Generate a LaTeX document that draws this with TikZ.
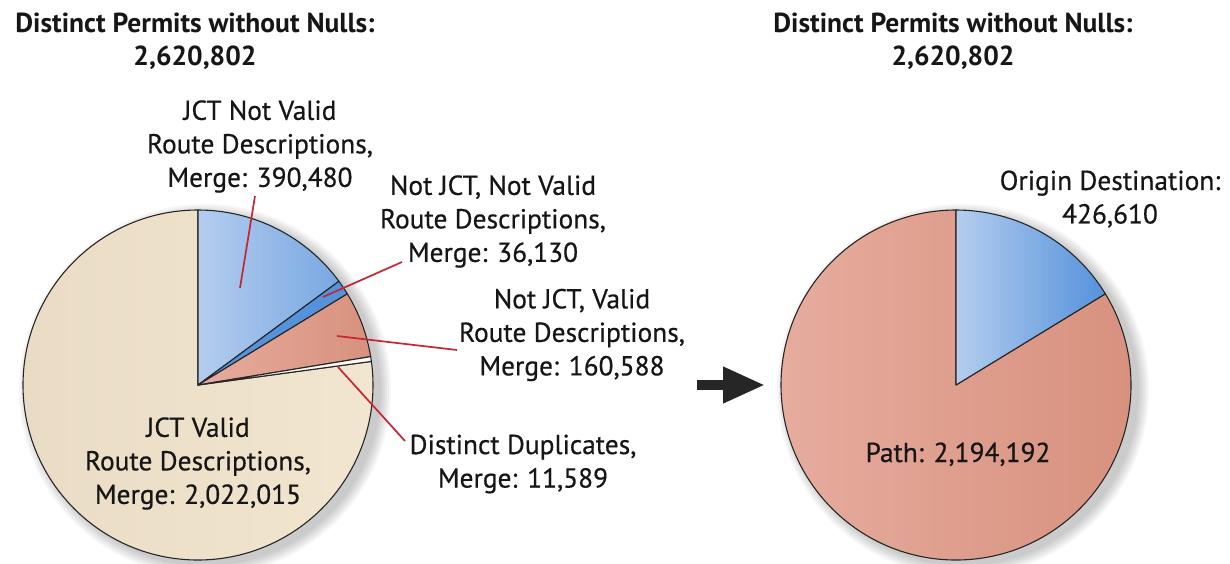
\documentclass[tikz,border=0pt]{standalone}
\usepackage{fontspec}
\setmainfont{PT Sans}
\newfontfamily\lblfont[FakeBold=0.5]{PT Sans}
\usetikzlibrary{arrows.meta}
\definecolor{tanA}{RGB}{234,220,196}
\definecolor{tanB}{RGB}{242,230,208}
\definecolor{blueA}{RGB}{180,205,238}
\definecolor{blueB}{RGB}{120,168,226}
\definecolor{blueC}{RGB}{84,146,220}
\definecolor{pinkA}{RGB}{230,172,158}
\definecolor{pinkB}{RGB}{216,145,126}
\definecolor{dupw}{RGB}{252,250,242}
\definecolor{leaderred}{RGB}{196,38,52}
\definecolor{inkc}{RGB}{22,22,22}
\begin{document}
\begin{tikzpicture}[x=1pt,y=1pt,
  lbl/.style={font=\lblfont\fontsize{27.4}{33.5}\selectfont, align=center, inner sep=0pt, text=inkc},
  ttl/.style={font=\bfseries\fontsize{27.5}{33}\selectfont, align=center, inner sep=0pt, text=inkc},
  slice/.style={draw=black!85, line width=1.1pt, line join=round},
  leader/.style={draw=leaderred, line width=1.7pt},
  shad/.style={fill=black, opacity=0.035}]
\fill[white] (0,0) rectangle (1230,-563);
\useasboundingbox (0,0) rectangle (1230,-563);

% pie centres
\coordinate (c1) at (198,-385);
\coordinate (c2) at (956,-385);

% soft shadows
\foreach \k in {1,3,5,7,9,11}{
  \fill[shad] (205,-390) circle[radius=175+\k];
  \fill[shad] (963,-390) circle[radius=175+\k];
}

% left pie
\path[slice, left color=tanA, right color=tanB] (c1) -- ++(90:175) arc[start angle=90, end angle=367.749, radius=175] -- cycle;
\path[slice, left color=blueA, right color=blueB] (c1) -- ++(36.363:175) arc[start angle=36.363, end angle=90, radius=175] -- cycle;
\path[slice, fill=blueC] (c1) -- ++(31.4:175) arc[start angle=31.4, end angle=36.363, radius=175] -- cycle;
\path[slice, left color=pinkA, right color=pinkB] (c1) -- ++(9.341:175) arc[start angle=9.341, end angle=31.4, radius=175] -- cycle;
\path[slice, fill=dupw] (c1) -- ++(7.749:175) arc[start angle=7.749, end angle=9.341, radius=175] -- cycle;

% right pie
\path[slice, left color=pinkA, right color=pinkB] (c2) -- ++(90:175) arc[start angle=90, end angle=391.4, radius=175] -- cycle;
\path[slice, left color=blueA, right color=blueC] (c2) -- ++(31.4:175) arc[start angle=31.4, end angle=90, radius=175] -- cycle;

% titles
\node[ttl] (t1) at (195,-41) {Distinct Permits without Nulls:\\2,620,802};
\node[ttl] (t2) at (953,-41) {Distinct Permits without Nulls:\\2,620,802};

% labels
\node[lbl] (l1) at (260,-146.5) {JCT Not Valid\\Route Descriptions,\\Merge: 390,480};
\node[lbl] (l2) at (493,-221.5) {Not JCT, Not Valid\\Route Descriptions,\\Merge: 36,130};
\node[lbl] (l3) at (572,-335) {Not JCT, Valid\\Route Descriptions,\\Merge: 160,588};
\node[lbl] (l4) at (523,-464) {Distinct Duplicates,\\Merge: 11,589};
\node[lbl] (l5) at (198,-463.5) {JCT Valid\\Route Descriptions,\\Merge: 2,022,015};
\node[lbl, anchor=base] (l6) at (958,-462) {Path: 2,194,192};
\node[lbl] (l7) at (1110,-199) {Origin Destination:\\426,610};

% leader lines
\coordinate (p1) at (240,-288);
\coordinate (q1) at (255,-196);
\coordinate (p2) at (323,-297);
\coordinate (q2) at (402,-262);
\coordinate (p3) at (337,-336);
\coordinate (q3) at (457,-350);
\coordinate (p4) at (338,-367);
\coordinate (q4) at (405,-441);
\draw[leader] (p1) -- (q1);
\draw[leader] (p2) -- (q2);
\draw[leader] (p3) -- (q3);
\draw[leader] (p4) -- (q4);

% arrow between pies
\coordinate (a1) at (697,-385);
\coordinate (a2) at (765,-385);
\draw[line width=10pt, draw=black!85, -{Triangle[length=42pt, width=34pt]}] (a1) -- (a2);
\end{tikzpicture}
\end{document}
